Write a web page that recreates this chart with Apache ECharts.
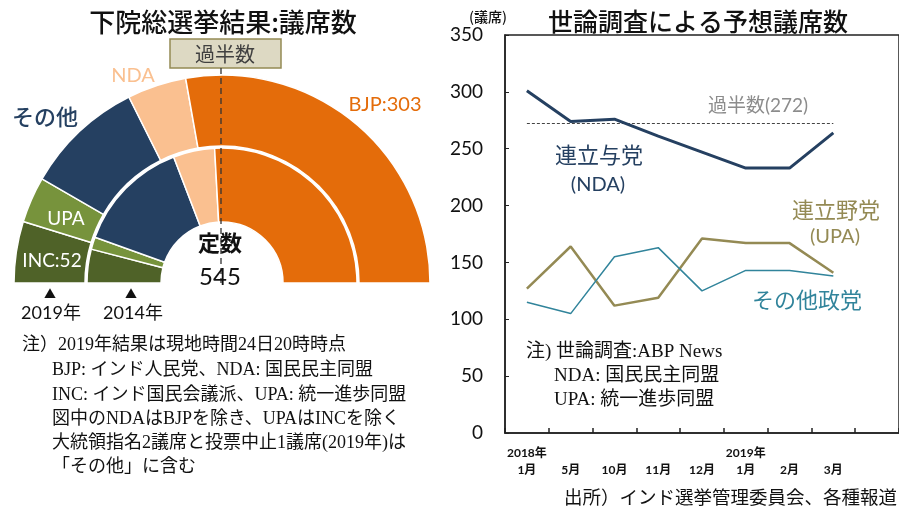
<!DOCTYPE html>
<html><head><meta charset="utf-8">
<script src="https://cdn.jsdelivr.net/npm/echarts@6/dist/echarts.min.js"></script>
<style>html,body{margin:0;padding:0;background:#fff}#c{width:899px;height:506px}</style>
</head><body><div id="c"></div>
<script>
// ---- data: left (election result, seats) ----
const seatParties = ['INC', 'UPA', 'その他', 'NDA', 'BJP'];
const seats2019 = [52, 39, 101, 50, 303];
const seats2014 = [44, 16, 149, 54, 282];
const totalSeats = 545;
const majority = 272;

// ---- data: right (opinion poll projections) ----
const surveyMonths = ['2018年\n1月', '\n5月', '\n10月', '\n11月', '\n12月', '2019年\n1月', '\n2月', '\n3月', ''];
const ndaSeats = [301, 274, 276, 261, 247, 233, 233, 264];
const upaSeats = [127, 164, 112, 119, 171, 167, 167, 141];
const otherSeats = [115, 105, 155, 163, 125, 143, 143, 138];
const yMin = 0, yMax = 350, yStep = 50;

// ---- styles ----
const partyColors = {INC: '#4f6228', UPA: '#77933c', 'その他': '#254061', NDA: '#fac090', BJP: '#e46c0a'};
const SANS = "'Lato', 'Noto Sans CJK JP', sans-serif";
const JP = "'Noto Sans CJK JP', sans-serif";
const SERIF = "'Liberation Serif', 'Noto Sans CJK JP', serif";

function ringData(vals) {
  const d = seatParties.map((p, i) => ({
    name: p, value: vals[i],
    itemStyle: {color: partyColors[p], borderColor: '#fff', borderWidth: 1.5}
  }));
  d.push({name: 'hidden', value: totalSeats, itemStyle: {color: 'rgba(0,0,0,0)', borderWidth: 0}});
  return d;
}

const pieCommon = {
  type: 'pie', center: [222, 283], startAngle: 180, clockwise: true,
  label: {show: false}, labelLine: {show: false}, silent: true,
  emphasis: {disabled: true}, avoidLabelOverlap: false, minAngle: 0
};

const chart = echarts.init(document.getElementById('c'));

function txt(x, y, text, size, color, opts) {
  return {
    type: 'text', x: x, y: y, z: 100, zlevel: 0,
    style: Object.assign({text: text, fontSize: size, fill: color, fontFamily: SANS, align: 'center', verticalAlign: 'middle'}, (opts || {}))
  };
}

const graphics = [
  // titles
  txt(223, 22, '下院総選挙結果:議席数', 26, '#111', {fontFamily: JP, fontWeight: 500}),
  txt(698, 21, '世論調査による予想議席数', 25, '#111', {fontFamily: JP, fontWeight: 500}),
  // majority box
  {type: 'rect', z: 100, shape: {x: 170, y: 39, width: 111, height: 29}, style: {fill: '#ddd9c3', stroke: '#948a54', lineWidth: 1.5}},
  txt(225, 54, '過半数', 20, '#404040', {fontFamily: JP}),
  {type: 'line', z: 100, shape: {x1: 221, y1: 68, x2: 221, y2: 283}, style: {stroke: '#333', lineWidth: 1.3, lineDash: [6, 4]}},
  // ring labels
  txt(385, 105, 'BJP:' + seats2019[4], 20, '#e46c0a'),
  txt(133, 76, 'NDA', 20, '#fac090'),
  txt(45, 117, 'その他', 22, '#254061', {fontFamily: JP, fontWeight: 500}),
  txt(66, 219, 'UPA', 19, '#fff'),
  txt(52, 261, 'INC:' + seats2019[0], 19, '#fff'),
  txt(220, 243, '定数', 22, '#111', {fontFamily: JP, fontWeight: 'bold'}),
  txt(220, 277, String(totalSeats), 24, '#111'),
  txt(50, 294, '▲', 12, '#111', {fontFamily: JP}),
  txt(131, 294, '▲', 12, '#111', {fontFamily: JP}),
  txt(51, 313, '2019年', 18, '#111'),
  txt(133, 313, '2014年', 18, '#111'),
  // left notes
  txt(22, 345, '注）2019年結果は現地時間24日20時時点', 18, '#111', {fontFamily: SERIF, align: 'left'}),
  txt(52, 370, 'BJP: インド人民党、NDA: 国民民主同盟', 18, '#111', {fontFamily: SERIF, align: 'left'}),
  txt(52, 395, 'INC: インド国民会議派、UPA: 統一進歩同盟', 18, '#111', {fontFamily: SERIF, align: 'left'}),
  txt(52, 419, '図中のNDAはBJPを除き、UPAはINCを除く', 18, '#111', {fontFamily: SERIF, align: 'left'}),
  txt(52, 443, '大統領指名2議席と投票中止1議席(2019年)は', 18, '#111', {fontFamily: SERIF, align: 'left'}),
  txt(52, 467, '「その他」に含む', 18, '#111', {fontFamily: SERIF, align: 'left'}),
  // right chart annotations
  txt(488, 17, '(議席)', 14, '#111', {fontFamily: JP, fontWeight: 500}),
  txt(758, 106, '過半数(' + majority + ')', 19, '#8c8c8c'),
  txt(599, 155, '連立与党', 22, '#254061', {fontFamily: JP}),
  txt(598, 185, '(NDA)', 20, '#254061'),
  txt(836, 210, '連立野党', 22, '#948a54', {fontFamily: JP}),
  txt(835, 237, '(UPA)', 20, '#948a54'),
  txt(807, 300, 'その他政党', 22, '#31849b', {fontFamily: JP}),
  txt(526, 352, '注) 世論調査:ABP News', 19, '#111', {fontFamily: SERIF, align: 'left'}),
  txt(554, 376, 'NDA: 国民民主同盟', 19, '#111', {fontFamily: SERIF, align: 'left'}),
  txt(554, 400, 'UPA: 統一進歩同盟', 19, '#111', {fontFamily: SERIF, align: 'left'}),
  txt(897, 497, '出所）インド選挙管理委員会、各種報道', 18.5, '#111', {fontFamily: JP, align: 'right'})
];

chart.setOption({
  animation: false,
  backgroundColor: '#fff',
  grid: {left: 505, top: 35, width: 396, height: 398, show: true, borderColor: '#222', borderWidth: 1.5, backgroundColor: 'transparent'},
  xAxis: {
    type: 'category', data: surveyMonths, boundaryGap: true,
    axisLine: {show: true, lineStyle: {color: '#222', width: 1.5}},
    axisTick: {show: true, inside: true, length: 5, lineStyle: {color: '#222', width: 1.5}},
    axisLabel: {interval: 0, fontSize: 12, fontWeight: 'bold', color: '#111', fontFamily: SANS, lineHeight: 17, margin: 12}
  },
  yAxis: {
    type: 'value', min: yMin, max: yMax, interval: yStep,
    axisLine: {show: true, lineStyle: {color: '#222', width: 1.5}},
    axisTick: {show: true, inside: true, length: 4, lineStyle: {color: '#222', width: 1}},
    splitLine: {show: false},
    axisLabel: {fontSize: 19, color: '#111', fontFamily: SANS, margin: 22}
  },
  series: [
    Object.assign({}, pieCommon, {name: '2019', radius: [137, 208], data: ringData(seats2019)}),
    Object.assign({}, pieCommon, {name: '2014', radius: [61, 135], data: ringData(seats2014)}),
    {
      type: 'line', name: 'NDA', data: ndaSeats, showSymbol: false, z: 5,
      lineStyle: {color: '#254061', width: 3}, itemStyle: {color: '#254061'},
      markLine: {
        silent: true, symbol: 'none', label: {show: false},
        lineStyle: {color: '#444', type: [3, 2], width: 1},
        data: [[{coord: [0, majority]}, {coord: [7, majority]}]]
      }
    },
    {type: 'line', name: 'UPA', data: upaSeats, showSymbol: false, lineStyle: {color: '#948a54', width: 2.5}, itemStyle: {color: '#948a54'}},
    {type: 'line', name: 'Others', data: otherSeats, showSymbol: false, lineStyle: {color: '#31849b', width: 1.5}, itemStyle: {color: '#31849b'}}
  ],
  graphic: graphics
});
</script>
</body></html>
